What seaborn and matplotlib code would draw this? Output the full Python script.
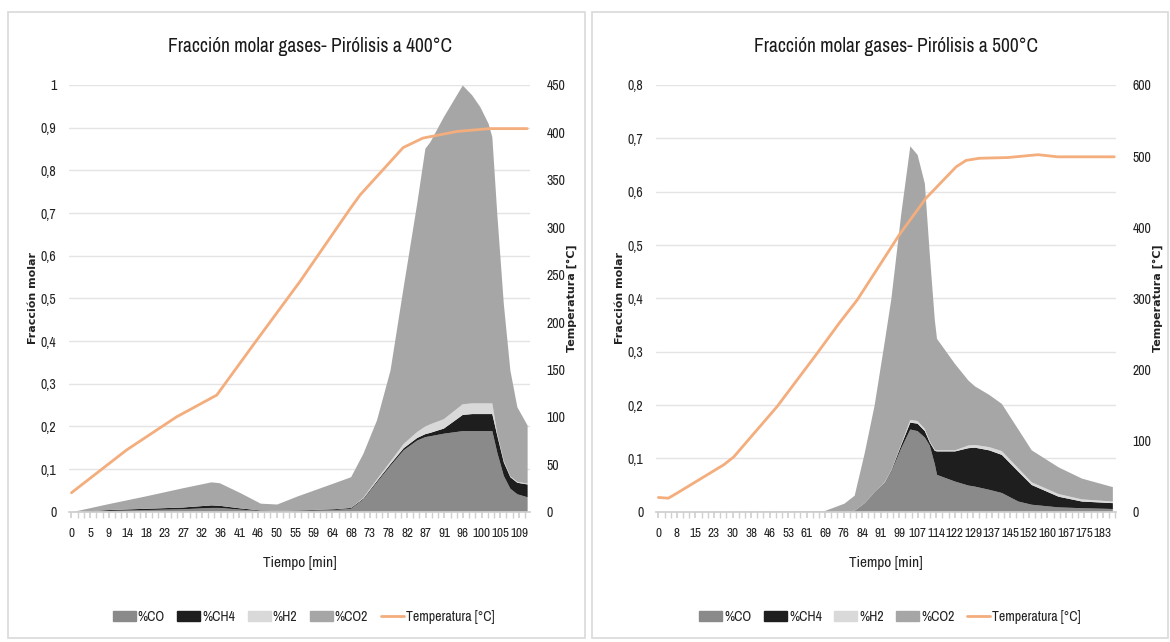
import numpy as np
import matplotlib
matplotlib.use("Agg")
import matplotlib.pyplot as plt
import seaborn as sns
from matplotlib.patches import Patch, Rectangle
from matplotlib.lines import Line2D
from matplotlib.ticker import MultipleLocator

# ---------------- data: pyrolysis at 400 C ----------------
t_400 = [0, 9, 18, 27, 34, 36, 41, 46, 50, 55, 64, 68, 71, 74.3, 77.6, 80.8, 84.1,
         86.1, 87.3, 90.6, 95.2, 97.5, 99.5, 101.5, 102.4, 103.6, 105.2, 106.8, 108.5, 111]
co_400 = [0, 0.003, 0.005, 0.007, 0.010, 0.010, 0.006, 0.003, 0.002, 0.003, 0.005, 0.008,
          0.03, 0.07, 0.109, 0.145, 0.168, 0.176, 0.178, 0.184, 0.19, 0.19, 0.19, 0.19,
          0.19, 0.14, 0.085, 0.055, 0.042, 0.035]
ch4_400 = [0, 0.002, 0.003, 0.004, 0.006, 0.005, 0.003, 0.001, 0.001, 0.001, 0.002, 0.002,
           0.002, 0.003, 0.004, 0.005, 0.006, 0.007, 0.008, 0.012, 0.038, 0.04, 0.04, 0.04,
           0.04, 0.04, 0.032, 0.027, 0.027, 0.03]
h2_400 = [0, 0, 0, 0, 0, 0, 0, 0, 0, 0, 0, 0, 0.002, 0.004, 0.006, 0.01, 0.014, 0.018,
          0.02, 0.022, 0.025, 0.025, 0.025, 0.025, 0.025, 0.004, 0.003, 0.002, 0.002, 0.002]
co2_400 = [0, 0.014, 0.029, 0.045, 0.054, 0.053, 0.036, 0.016, 0.015, 0.033, 0.061, 0.072,
           0.103, 0.138, 0.213, 0.367, 0.535, 0.651, 0.661, 0.708, 0.747, 0.722, 0.694,
           0.655, 0.624, 0.516, 0.368, 0.248, 0.175, 0.136]
temp_t_400 = [0, 13.4, 25.6, 35.4, 44.3, 55.7, 67.8, 70.3, 80.8, 85.6, 93.9, 101.9, 111]
temp_400 = [20, 65, 100, 123, 176, 243, 319, 334, 384, 394, 401, 404, 404]
ticks_400 = ["0", "5", "9", "14", "18", "23", "27", "32", "36", "41", "46", "50", "55",
             "59", "64", "68", "73", "78", "82", "87", "91", "96", "100", "105", "109"]

# ---------------- data: pyrolysis at 500 C ----------------
t_500 = [0, 68.2, 76.4, 80.6, 84.7, 88.8, 93, 95.7, 99.8, 103.5, 106.5, 109.5, 111.5,
         113.6, 114.5, 121.9, 127.4, 130.1, 136, 141.2, 148, 153.5, 164.6, 174.2, 186.9]
co_500 = [0, 0, 0, 0.003, 0.017, 0.036, 0.055, 0.076, 0.12, 0.155, 0.152, 0.14, 0.125,
          0.09, 0.07, 0.0575, 0.05, 0.048, 0.042, 0.036, 0.02, 0.014, 0.009, 0.0075, 0.006]
ch4_500 = [0, 0, 0, 0, 0, 0.001, 0.001, 0.002, 0.006, 0.013, 0.014, 0.012, 0.006, 0.025,
           0.044, 0.0565, 0.07, 0.073, 0.074, 0.0715, 0.056, 0.037, 0.02, 0.0125, 0.011]
h2_500 = [0, 0, 0, 0, 0, 0, 0.001, 0.001, 0.002, 0.005, 0.005, 0.004, 0.002, 0.002,
          0.002, 0.002, 0.005, 0.005, 0.006, 0.007, 0.006, 0.005, 0.005, 0.004, 0.003]
co2_500 = [0, 0.002, 0.016, 0.028, 0.093, 0.163, 0.263, 0.321, 0.432, 0.513, 0.499, 0.46,
           0.352, 0.243, 0.209, 0.162, 0.122, 0.11, 0.098, 0.0885, 0.073, 0.06, 0.05,
           0.039, 0.027]
temp_t_500 = [0, 4.1, 7.6, 26.9, 31, 48.9, 65.4, 74.4, 81.9, 99.1, 110.2, 122.6, 126.7,
              132.2, 143.9, 156.3, 164.4, 187.7]
temp_500 = [20, 19, 26, 66, 77, 148, 223, 265, 298, 389, 441, 485, 494, 497, 498, 502, 499, 499]
ticks_500 = ["0", "8", "15", "23", "30", "38", "46", "53", "61", "69", "76", "84", "91",
             "99", "107", "114", "122", "129", "137", "145", "152", "160", "167", "175", "183"]

# ---------------- style ----------------
C_CO, C_CH4, C_H2, C_CO2 = "#8a8a8a", "#1e1e1e", "#d9d9d9", "#a6a6a6"
C_TEMP = "#f4ad7c"
TXT = "#222222"

sns.set_theme(style="white")
# narrow face to get close to the squeezed Calibri look of the original
plt.rcParams["font.family"] = ["Archivo Narrow", "Liberation Sans", "DejaVu Sans"]

fig = plt.figure(figsize=(11.7, 6.42), dpi=100)
W, H = 1170, 642


def box(x0, y0, x1, y1):
    return [x0 / W, 1 - y1 / H, (x1 - x0) / W, (y1 - y0) / H]


def panel(frame, rect, t, co, ch4, h2, co2, tt, temp, ticks, tick_end, xlim,
          ymax, tmax, tstep, title):
    fig.add_artist(Rectangle((frame[0], frame[1]), frame[2], frame[3],
                             transform=fig.transFigure, fill=False,
                             edgecolor="#d9d9d9", linewidth=1.2))
    ax = fig.add_axes(rect)
    ax.stackplot(t, co, ch4, h2, co2, colors=[C_CO, C_CH4, C_H2, C_CO2],
                 linewidth=0)
    ax.set_xlim(*xlim)
    ax.set_ylim(0, ymax)
    yt = np.arange(0, ymax + 0.001, 0.1)
    ax.set_yticks(yt)
    ax.set_yticklabels([("%g" % v).replace(".", ",") for v in np.round(yt, 1)])
    ax.set_xticks(np.linspace(0, tick_end, len(ticks)))
    ax.set_xticklabels(ticks)
    ax.xaxis.set_minor_locator(MultipleLocator(tick_end / 72))
    ax.set_axisbelow(True)
    ax.yaxis.grid(True, color="#e4e4e4", linewidth=1)
    for s in ["top", "right", "left"]:
        ax.spines[s].set_visible(False)
    ax.spines["bottom"].set_color("#d0d0d0")
    ax.tick_params(axis="x", which="both", length=4, color="#d0d0d0", bottom=True)
    ax.tick_params(axis="x", which="major", labelsize=9.5, labelcolor=TXT, pad=8)
    ax.tick_params(axis="y", length=0, labelsize=10, labelcolor=TXT, pad=9)
    ax.set_xlabel("Tiempo [min]", fontsize=11, color=TXT, labelpad=12)
    ax.set_ylabel("Fracción molar", fontsize=8, fontweight="bold",
                  family="DejaVu Sans", color=TXT, labelpad=2)
    ax.set_title(title, fontsize=14, color="#1a1a1a", pad=24, x=0.522)

    ax2 = ax.twinx()
    sns.lineplot(x=tt, y=temp, ax=ax2, color=C_TEMP, linewidth=2)
    ax2.set_ylim(0, tmax)
    ax2.set_yticks(np.arange(0, tmax + 1, tstep))
    ax2.grid(False)
    for s in ax2.spines.values():
        s.set_visible(False)
    ax2.tick_params(axis="y", length=0, labelsize=10, labelcolor=TXT, pad=12)
    ax2.set_ylabel("Temperatura [°C]", fontsize=8, fontweight="bold",
                   family="DejaVu Sans", color=TXT, labelpad=1)

    handles = [Patch(color=C_CO, label="%CO"), Patch(color=C_CH4, label="%CH4"),
               Patch(color=C_H2, label="%H2"), Patch(color=C_CO2, label="%CO2"),
               Line2D([], [], color=C_TEMP, linewidth=2, label="Temperatura [°C]")]
    cx = rect[0] + rect[2] / 2 + 4 / W
    fig.legend(handles=handles, loc="center", bbox_to_anchor=(cx, 1 - 617 / H),
               ncol=5, frameon=False, fontsize=10, handlelength=1.65, handleheight=0.7,
               columnspacing=0.9, handletextpad=0.15, labelcolor=TXT)


panel(box(8, 12, 585, 638), box(69, 85, 530, 511.7),
      t_400, co_400, ch4_400, h2_400, co2_400, temp_t_400, temp_400,
      ticks_400, 109, (-0.6, 111.7), 1.0, 450, 50,
      "Fracción molar gases- Pirólisis a 400°C")
panel(box(592, 12, 1168, 638), box(656, 85, 1116, 511.7),
      t_500, co_500, ch4_500, h2_500, co2_500, temp_t_500, temp_500,
      ticks_500, 183, (-1.0, 188.4), 0.8, 600, 100,
      "Fracción molar gases- Pirólisis a 500°C")

fig.savefig("out.png", dpi=100, facecolor="white")
